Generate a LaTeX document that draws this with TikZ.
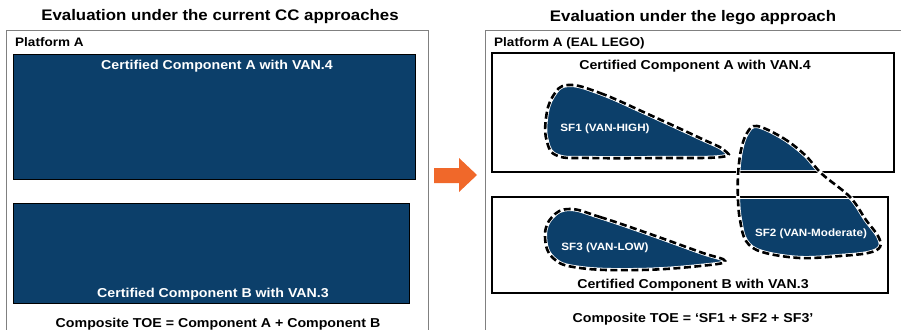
\documentclass[tikz,border=0pt]{standalone}
\usepackage{fontspec}
\setmainfont[FakeStretch=1.1]{Liberation Sans}
\usepackage{tikz}

\definecolor{vanblue}{RGB}{12,63,106}
\definecolor{legoorange}{RGB}{240,104,42}

\tikzset{
  headtext/.style={font=\fontsize{15.3}{18}\selectfont\bfseries, anchor=base, inner sep=0pt},
  platformtext/.style={font=\fontsize{12.3}{14}\selectfont\bfseries, anchor=base west, inner sep=0pt},
  comptext/.style={font=\fontsize{12.9}{15}\selectfont\bfseries, anchor=base, inner sep=0pt},
  sftext/.style={font=\fontsize{10.6}{12}\selectfont\bfseries, text=white, anchor=base, inner sep=0pt},
  platformline/.style={draw=black!50, line width=0.8pt},
  compbox/.style={draw=black, line width=0.9pt, fill=vanblue, inner sep=0pt},
  legobox/.style={draw=black, line width=1.2pt, fill=white, inner sep=0pt},
  sfline/.style={postaction={draw=white, line width=4.2pt},
    postaction={draw=black, line width=2.6pt, dash pattern=on 7pt off 3.5pt}},
  sfblob/.style={fill=vanblue, sfline}
}

\begin{document}
\begin{tikzpicture}[x=1pt, y=-1pt]
        \useasboundingbox (0,0) rectangle (901,329);
        \clip (0,0) rectangle (901,329);

        % titles
        \node [headtext] (titleCC) at (220, 21) {Evaluation under the current CC approaches};
        \node [headtext] (titleLego) at (693, 22) {Evaluation under the lego approach};

        % platform A, current CC
        \draw [platformline] (6, 335) -- (6, 30) -- (428, 30) -- (428, 335);
        \node [platformtext] (platCC) at (15, 46) {Platform A};

        % component A and B
        \node [compbox, minimum width=402pt, minimum height=125pt] (compA) at (214, 116.5) {};
        \node [comptext, text=white] (compAlabel) at (217, 69) {Certified Component A with VAN.4};
        \node [compbox, minimum width=396pt, minimum height=100pt] (compB) at (211, 253) {};
        \node [comptext, text=white] (compBlabel) at (213, 297) {Certified Component B with VAN.3};

        % composite TOE
        \node [comptext] (toeCC) at (218, 327) {Composite TOE = Component A + Component B};

        % the arrow
        \fill [legoorange] (434, 168) -- (459, 168) -- (459, 158) -- (477, 175)
          -- (459, 192) -- (459, 183) -- (434, 183) -- cycle;

        % platform A, lego
        \draw [platformline] (485, 335) -- (485, 30) -- (905, 30);
        \node [platformtext] (platLego) at (494, 46) {Platform A (EAL LEGO)};

        % component A and B boxes
        \node [legobox, minimum width=402pt, minimum height=119pt] (legoA) at (693, 112.5) {};
        \node [comptext] (legoAlabel) at (695, 69) {Certified Component A with VAN.4};
        \node [legobox, minimum width=396pt, minimum height=96pt] (legoB) at (690, 245) {};
        \node [comptext] (legoBlabel) at (693, 288) {Certified Component B with VAN.3};

        % SF1
        \draw [sfblob] plot [smooth cycle, tension=0.7]
          coordinates{(568, 85) (600, 93) (650, 115) (700, 138) (724, 150)
            (721, 157) (660, 158) (590, 158) (558, 156) (547, 142) (546, 118) (553, 96)};
        \node [sftext] (sfOne) at (605, 131) {SF1 (VAN-HIGH)};

        % SF3
        \draw [sfblob] plot [smooth cycle, tension=0.7]
          coordinates{(570, 209) (600, 217) (650, 234) (700, 252) (725, 261)
            (700, 266) (640, 270) (580, 268) (553, 258) (545, 236) (552, 217)};
        \node [sftext] (sfThree) at (605, 250) {SF3 (VAN-LOW)};

        % SF2, filled only inside the two boxes
        \begin{scope}
          \clip (700, 100) rectangle (900, 170) (700, 199) rectangle (900, 300);
          \fill [vanblue] plot [smooth cycle, tension=0.6]
            coordinates{(757, 126) (783, 138) (805, 155) (822, 174) (850, 197) (866, 220)
              (878, 236) (880, 247) (868, 253) (840, 256) (800, 258) (762, 252) (746, 241)
              (740, 220) (738, 200) (738, 175) (741, 150) (747, 133)};
        \end{scope}
        \draw [sfline] plot [smooth cycle, tension=0.6]
          coordinates{(757, 126) (783, 138) (805, 155) (822, 174) (850, 197) (866, 220)
            (878, 236) (880, 247) (868, 253) (840, 256) (800, 258) (762, 252) (746, 241)
            (740, 220) (738, 200) (738, 175) (741, 150) (747, 133)};
        \node [sftext] (sfTwo) at (811, 236) {SF2 (VAN-Moderate)};

        % composite TOE
        \node [comptext] (toeLego) at (693, 322) {Composite TOE = `SF1 + SF2 + SF3'};

      \end{tikzpicture}
\end{document}
